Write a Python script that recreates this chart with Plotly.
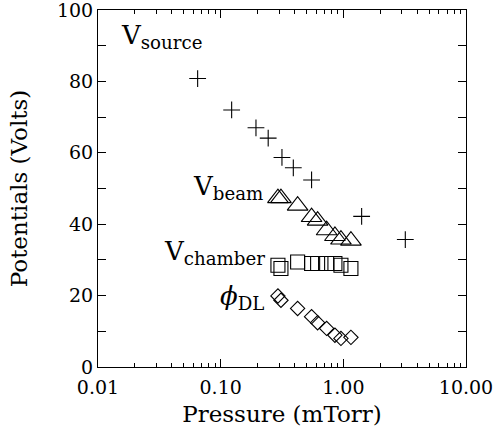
import plotly.graph_objects as go

# V_source data
p_source = [0.0649, 0.1229, 0.194, 0.244, 0.316, 0.391, 0.551, 1.41, 3.20]
v_source = [80.8, 72.0, 67.0, 64.1, 58.7, 55.8, 52.4, 42.2, 35.7]

# shared pressures for beam / chamber / double layer
p_probe = [0.293, 0.310, 0.424, 0.551, 0.617, 0.731, 0.854, 0.956, 1.153]
v_beam = [47.3, 47.3, 45.2, 42.0, 41.0, 38.3, 36.7, 35.7, 35.4]
v_chamber = [28.5, 27.6, 29.4, 29.0, 29.0, 29.0, 29.0, 28.5, 27.6]
phi_dl = [19.9, 18.7, 16.4, 14.1, 12.4, 10.8, 8.9, 8.0, 8.3]

x_tickvals = [0.01, 0.1, 1, 10]
x_ticktext = ["0.01", "0.10", "1.00", "10.00"]
y_tickvals = [0, 20, 40, 60, 80, 100]

FONT = "DejaVu Serif"

fig = go.Figure()
mk = dict(color="black", line=dict(color="black", width=1.1))
fig.add_trace(go.Scatter(x=p_source, y=v_source, mode="markers",
                         marker=dict(symbol="cross-thin-open", size=12, **mk)))
fig.add_trace(go.Scatter(x=p_probe, y=v_beam, mode="markers",
                         marker=dict(symbol="triangle-up-open", size=18, **mk)))
fig.add_trace(go.Scatter(x=p_probe, y=v_chamber, mode="markers",
                         marker=dict(symbol="square-open", size=14, **mk)))
fig.add_trace(go.Scatter(x=p_probe, y=phi_dl, mode="markers",
                         marker=dict(symbol="diamond-open", size=11, **mk)))

minor_x = [m * 10 ** e for e in (-2, -1, 0) for m in range(2, 10)]

fig.update_xaxes(type="log", range=[-2, 1], tickvals=x_tickvals, ticktext=x_ticktext,
                 ticks="inside", ticklen=8, tickcolor="black", showline=True,
                 linecolor="black", linewidth=1, mirror="ticks", showgrid=False,
                 zeroline=False, automargin=False, ticklabeloverflow="allow",
                 ticklabelstandoff=3,
                 minor=dict(tickvals=minor_x, ticks="inside", ticklen=4,
                            tickcolor="black", showgrid=False),
                 tickfont=dict(family=FONT, size=19, color="black"),
                 title=dict(text="Pressure (mTorr)", standoff=9,
                            font=dict(family=FONT, size=23, color="black")))
fig.update_yaxes(range=[0, 100], tickvals=y_tickvals, ticks="inside", ticklen=8,
                 tickcolor="black", showline=True, linecolor="black", linewidth=1,
                 mirror="ticks", showgrid=False, zeroline=False,
                 automargin=False, ticklabeloverflow="allow",
                 minor=dict(dtick=10, ticks="inside", ticklen=8,
                            tickcolor="black", showgrid=False),
                 tickfont=dict(family=FONT, size=19, color="black"),
                 title=dict(text="Potentials (Volts)", standoff=22,
                            font=dict(family=FONT, size=23, color="black")))

ann_font = dict(family=FONT, size=26, color="black")
labels = [
    ("V<sub>source</sub>", 0.058, 0.927),
    ("V<sub>beam</sub>", 0.254, 0.502),
    ("V<sub>chamber</sub>", 0.175, 0.322),
    ("<i>ϕ</i><sub>DL</sub>", 0.325, 0.196),
]
for txt, ax_, ay_ in labels:
    fig.add_annotation(text=txt, x=ax_, y=ay_, xref="paper", yref="paper",
                       xanchor="left", yanchor="middle", showarrow=False,
                       font=ann_font)

fig.update_layout(width=499, height=433, showlegend=False,
                  margin=dict(l=98, r=33, t=10, b=66),
                  plot_bgcolor="white", paper_bgcolor="white")

fig.write_html("out.html", config={"displayModeBar": False},
               post_script="document.body.style.margin='0';document.body.style.overflow='hidden';")
